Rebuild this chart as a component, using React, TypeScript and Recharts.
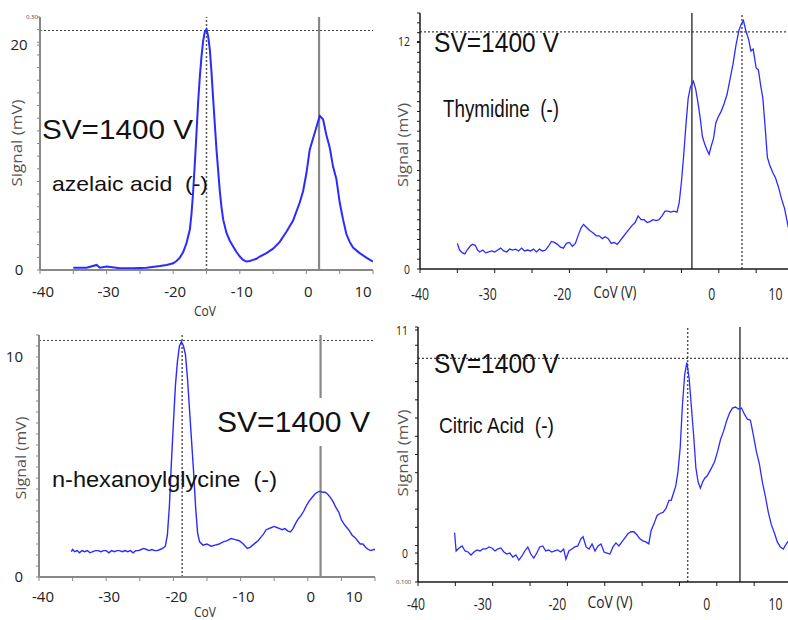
import React from 'react';
import { LineChart, Line, XAxis, YAxis, ReferenceLine } from 'recharts';

// CoV scans at SV = 1400 V
const AZELAIC_COV = [-35, -33, -31.5, -31, -30, -28, -26, -24, -22, -21, -20, -19.5, -19, -18.5, -18, -17.5, -17.25, -17, -16.75, -16.5, -16.25, -16, -15.75, -15.5, -15.25, -15, -14.75, -14.5, -14.25, -14, -13.5, -13, -12.75, -12.5, -12, -11.5, -11, -10.5, -10, -9.5, -9, -8.5, -8, -7.5, -7, -6, -5, -4, -3, -2, -1, -0.5, 0, 0.5, 1, 1.5, 2, 2.5, 3, 3.5, 4, 4.5, 5, 5.5, 6, 6.5, 7, 8, 9, 10];
const AZELAIC_SIGNAL = [0.2, 0.2, 0.45, 0.2, 0.3, 0.15, 0.15, 0.2, 0.35, 0.45, 0.6, 0.8, 1.1, 1.6, 2.4, 3.6, 5.0, 7.0, 9.5, 12.2, 15.0, 17.2, 19.0, 20.4, 21.2, 21.4, 20.8, 19.6, 17.6, 15.2, 10.7, 7.0, 5.6, 4.5, 3.3, 2.6, 2.1, 1.6, 1.2, 0.9, 0.75, 0.8, 0.9, 1.0, 1.2, 1.5, 1.9, 2.5, 3.4, 4.4, 6.0, 7.0, 8.6, 10.7, 11.7, 12.7, 13.7, 13.4, 12.0, 10.9, 9.2, 8.1, 6.0, 4.5, 3.2, 2.5, 2.0, 1.5, 1.1, 0.75];

const THYMIDINE_COV = [-35, -34.7, -34.3, -34, -33.7, -33.3, -33, -32.6, -32.3, -32, -31.6, -31.2, -30.8, -30.4, -30, -29.6, -29.2, -28.8, -28.4, -28, -27.6, -27.2, -26.8, -26.4, -26, -25.6, -25.2, -24.8, -24.4, -24, -23.6, -23.2, -22.8, -22.4, -22, -21.6, -21.2, -20.8, -20.4, -20, -19.6, -19.2, -18.8, -18.4, -18.1, -17.6, -17.2, -16.8, -16.4, -16, -15.6, -15.2, -14.8, -14.4, -14, -13.6, -13.2, -12.8, -12.4, -12, -11.6, -11.2, -10.8, -10.4, -10, -9.6, -9.2, -8.8, -8.4, -8, -7.6, -7.2, -6.8, -6.4, -6, -5.6, -5.3, -5, -4.7, -4.4, -4.1, -3.8, -3.4, -3.1, -2.8, -2.5, -2.2, -1.9, -1.6, -1.3, -1, -0.7, -0.4, -0.1, 0.3, 0.7, 1.1, 1.5, 1.9, 2.3, 2.7, 3, 3.3, 3.6, 4, 4.3, 4.6, 5, 5.3, 5.6, 5.9, 6.2, 6.5, 6.8, 7.2, 7.6, 8, 8.4, 8.8, 9.3, 9.6];
const THYMIDINE_SIGNAL = [1.35, 1.0, 0.85, 0.8, 1.0, 1.2, 1.3, 1.25, 1.0, 0.9, 1.0, 0.85, 0.9, 0.95, 0.9, 1.0, 1.1, 0.95, 0.9, 1.05, 1.0, 1.05, 0.95, 1.1, 0.95, 1.0, 0.95, 1.05, 0.9, 1.05, 0.95, 1.0, 1.2, 1.45, 1.4, 1.3, 1.15, 1.1, 1.35, 1.4, 1.2, 1.35, 1.8, 2.2, 2.35, 2.15, 2.0, 1.9, 1.75, 1.75, 1.6, 1.7, 1.6, 1.35, 1.4, 1.3, 1.5, 1.7, 1.9, 2.1, 2.3, 2.45, 2.8, 2.6, 2.6, 2.45, 2.5, 2.6, 2.55, 2.6, 2.8, 3.05, 3.05, 3.0, 3.05, 3.0, 3.5, 4.6, 6.0, 7.6, 9.0, 9.6, 9.9, 9.5, 8.8, 8.0, 7.0, 6.6, 6.3, 6.05, 6.5, 6.9, 7.7, 8.0, 8.3, 8.7, 9.2, 10.0, 10.8, 11.8, 12.6, 12.9, 13.1, 12.6, 12.1, 11.5, 11.6, 10.6, 10.5, 9.7, 9.0, 7.5, 5.9, 5.5, 5.1, 4.8, 4.3, 3.7, 3.2, 2.2, 2.0];

const HEXANOYL_COV = [-35.2, -35, -34.7, -34.3, -34, -33.6, -33.2, -32.8, -32.4, -32, -31.6, -31.2, -30.8, -30.4, -30, -29.6, -29.2, -28.8, -28.4, -28, -27.6, -27.2, -26.8, -26.4, -26, -25.6, -25.2, -24.8, -24.4, -24, -23.6, -23.2, -22.8, -22.4, -22, -21.6, -21.2, -20.9, -20.6, -20.3, -20, -19.7, -19.4, -19.1, -18.8, -18.5, -18.2, -17.9, -17.6, -17.3, -17, -16.7, -16.4, -16.1, -15.6, -15, -14.4, -13.8, -13.2, -12.6, -12, -11.4, -10.8, -10.2, -9.6, -9, -8.6, -8.2, -7.8, -7.4, -7, -6.6, -6.2, -5.8, -5.4, -5, -4.6, -4.2, -3.8, -3.4, -3, -2.6, -2.2, -1.8, -1.4, -1, -0.6, -0.2, 0.2, 0.6, 1, 1.4, 1.8, 2.2, 2.6, 3, 3.4, 3.8, 4.2, 4.6, 5, 5.4, 5.8, 6.2, 6.6, 7, 7.4, 7.8, 8.2, 8.6, 9, 9.4, 9.8, 10];
const HEXANOYL_SIGNAL = [1.15, 1.25, 1.15, 1.2, 1.1, 1.2, 1.15, 1.2, 1.1, 1.15, 1.2, 1.2, 1.15, 1.2, 1.2, 1.1, 1.2, 1.15, 1.2, 1.2, 1.15, 1.2, 1.15, 1.2, 1.1, 1.2, 1.2, 1.25, 1.3, 1.25, 1.2, 1.25, 1.2, 1.2, 1.25, 1.3, 1.4, 1.9, 3.2, 5.2, 7.0, 8.7, 9.8, 10.5, 10.7, 10.5, 10.1, 9.0, 7.6, 6.2, 4.8, 3.2, 2.0, 1.6, 1.45, 1.5, 1.4, 1.45, 1.5, 1.6, 1.65, 1.75, 1.7, 1.65, 1.5, 1.3, 1.35, 1.45, 1.55, 1.65, 1.8, 1.95, 2.15, 2.2, 2.25, 2.3, 2.25, 2.2, 2.15, 2.2, 2.1, 2.05, 2.2, 2.45, 2.65, 2.8, 3.0, 3.25, 3.45, 3.6, 3.75, 3.85, 3.9, 3.85, 3.85, 3.75, 3.6, 3.4, 3.15, 2.95, 2.6, 2.4, 2.25, 2.1, 1.9, 1.8, 1.65, 1.5, 1.5, 1.35, 1.25, 1.2, 1.25, 1.25];

const CITRIC_COV = [-35.1, -34.9, -34.5, -34.1, -33.7, -33.3, -32.9, -32.5, -32.1, -31.7, -31.3, -30.9, -30.5, -30.1, -29.7, -29.3, -28.9, -28.5, -28.1, -27.7, -27.3, -26.9, -26.5, -26.1, -25.7, -25.3, -24.9, -24.5, -24.1, -23.7, -23.3, -22.9, -22.5, -22.1, -21.7, -21.3, -20.9, -20.5, -20.2, -19.8, -19.4, -19, -18.6, -18.2, -17.9, -17.5, -17.1, -16.7, -16.3, -15.9, -15.5, -15.1, -14.7, -14.3, -13.9, -13.5, -13.1, -12.7, -12.3, -11.9, -11.5, -11.1, -10.7, -10.3, -9.9, -9.5, -9.1, -8.8, -8.4, -8, -7.6, -7.2, -6.8, -6.4, -6.1, -5.8, -5.5, -5.2, -4.9, -4.6, -4.3, -4, -3.7, -3.4, -3.1, -2.8, -2.5, -2.2, -1.9, -1.6, -1.3, -1, -0.7, -0.3, 0.1, 0.5, 0.9, 1.3, 1.7, 2.1, 2.5, 2.9, 3.3, 3.7, 4.1, 4.5, 4.9, 5.3, 5.7, 6.1, 6.5, 6.9, 7.3, 7.7, 8.1, 8.5, 8.9, 9.3, 9.6];
const CITRIC_SIGNAL = [1.0, 0.1, 0.25, 0.35, 0.1, 0.05, -0.1, 0.05, 0.15, 0.1, 0.2, 0.2, 0.3, 0.25, 0.1, 0.2, 0.25, 0.05, -0.05, 0.0, -0.2, -0.1, -0.35, -0.15, 0.1, 0.3, -0.05, -0.25, 0.0, 0.3, 0.35, 0.1, 0.15, 0.05, 0.1, 0.15, 0.05, 0.2, -0.3, 0.1, 0.2, 0.3, 0.35, 0.7, 0.8, 0.3, 0.2, 0.45, 0.1, 0.35, 0.45, 0.05, 0.0, -0.05, 0.3, 0.5, 0.35, 0.55, 0.75, 0.95, 1.05, 1.05, 0.9, 0.7, 0.6, 0.55, 0.45, 1.1, 1.45, 1.85, 1.95, 2.0, 2.2, 2.6, 2.6, 2.95, 3.3, 4.0, 5.2, 7.3, 8.8, 9.4, 8.6, 7.2, 5.8, 4.2, 3.5, 3.2, 3.5, 3.7, 3.8, 4.0, 4.2, 4.5, 5.0, 5.6, 6.0, 6.5, 6.9, 7.15, 7.2, 7.1, 7.15, 6.85, 6.6, 6.55, 5.8, 5.0, 4.4, 3.5, 2.8, 2.0, 1.4, 1.0, 0.55, 0.3, 0.2, 0.45, 0.6];

// axis labels
const X_TICKS = [-40, -35, -30, -25, -20, -15, -10, -5, 0, 5, 10];
const LEFT_X_LABELS = [-40, -30, -20, -10, 0, 10];
const RIGHT_X_LABELS = [-40, -30, -20, 0, 10];
const AZELAIC_Y_LABELS = [0, 20];
const THYMIDINE_Y_LABELS = [0, 12];
const HEXANOYL_Y_LABELS = [0, 10];
const CITRIC_Y_LABELS = [0, 11];

// dotted / solid CoV markers and the dotted apex level
const AZELAIC_MARKS = [-15, 1.9, 21.3];
const THYMIDINE_MARKS = [3.1, -3.6, 12.5];
const HEXANOYL_MARKS = [-18.7, 1.9, 10.75];
const CITRIC_MARKS = [-3.9, 3.1, 9.6];

const BLUE = '#2b2bff';
const toRows = (cov: number[], sig: number[]) => cov.map((c, i) => ({ cov: c, signal: sig[i] }));
const minorTicks = (lo: number, hi: number, n: number, labels: number[]) =>
  Array.from(new Set([...Array.from({ length: n + 1 }, (_, i) => +(lo + ((hi - lo) * i) / n).toFixed(3)), ...labels])).sort((a, b) => a - b);

const makeXTick = (labels: number[], o: any) => (p: any) => {
  const v = p.payload.value;
  if (!labels.includes(v)) return <g />;
  const shift = v === labels[0] ? o.firstDx : v === labels[labels.length - 1] ? o.lastDx : o.dx;
  return (
    <text transform={`translate(${p.x + shift},${p.y + o.dy}) scale(${o.sx},1)`} textAnchor="middle"
      fontSize={o.size} fontFamily="Open Sans" fill="#222">{v}</text>
  );
};

const makeYTick = (labels: number[], o: any) => (p: any) => {
  const v = p.payload.value;
  if (!labels.includes(v)) return <g />;
  return (
    <text transform={`translate(${o.x},${p.y + o.dy}) scale(${o.sx},1)`} textAnchor={o.anchor}
      fontSize={o.size} fontFamily="Open Sans" fill="#222">{v}</text>
  );
};

function Panel({ box, margin, yWidth, xHeight, yDomain, nMinor, yLabels, xLabels, rows, marks, right, yTick, xTick, lineWidth }: any) {
  const axisColor = right ? '#1a1a1a' : '#888';
  const axisWidth = right ? 1.5 : 2;
  const [dotX, solidX, level] = marks;
  return (
    <div style={{ position: 'absolute', left: box[0], top: box[1] }}>
      <LineChart width={box[2]} height={box[3]} data={rows} margin={margin}>
        <XAxis type="number" dataKey="cov" domain={[-40, 10]} ticks={X_TICKS} interval={0} allowDataOverflow
          height={xHeight} tickSize={4} tickMargin={0}
          axisLine={{ stroke: axisColor, strokeWidth: axisWidth }} tickLine={{ stroke: axisColor }}
          tick={makeXTick(xLabels, xTick)} />
        <YAxis type="number" domain={yDomain} ticks={minorTicks(yDomain[0], yDomain[1], nMinor, yLabels)} interval={0}
          allowDataOverflow width={yWidth} tickSize={3} tickMargin={0}
          axisLine={{ stroke: axisColor, strokeWidth: axisWidth }} tickLine={{ stroke: axisColor }}
          tick={makeYTick(yLabels, yTick)} />
        <ReferenceLine y={level} stroke="#444" strokeWidth={1.2} strokeDasharray="2 2" />
        <ReferenceLine x={dotX} stroke="#555" strokeWidth={1.5} strokeDasharray="2 2" />
        <ReferenceLine x={solidX} stroke={right ? '#222' : '#888'} strokeWidth={right ? 1.3 : 2.2} />
        <Line type="linear" dataKey="signal" stroke={BLUE} strokeWidth={lineWidth} dot={false} isAnimationActive={false} />
      </LineChart>
    </div>
  );
}

const note = { fontFamily: 'Liberation Sans, Arial, sans-serif', fill: '#111', whiteSpace: 'pre' as const };
const title = { fontFamily: 'Open Sans, sans-serif', fill: '#555', fontSize: 15 };

export default function App() {
  return (
    <div style={{ position: 'absolute', left: 0, top: 0, width: 788, height: 620, overflow: 'hidden', background: '#fff' }}>
      <Panel box={[0, 0, 394, 320]} margin={{ top: 17, right: 21, bottom: 0, left: 0 }} yWidth={40} xHeight={50}
        yDomain={[0, 22.5]} nMinor={20} yLabels={AZELAIC_Y_LABELS} xLabels={LEFT_X_LABELS}
        rows={toRows(AZELAIC_COV, AZELAIC_SIGNAL)} marks={AZELAIC_MARKS} lineWidth={2}
        yTick={{ x: 19, anchor: 'middle', dy: 5, size: 15, sx: 1 }}
        xTick={{ dy: 23, dx: 2, firstDx: 3, lastDx: -10, size: 15, sx: 1 }} />
      <Panel box={[380, 0, 420, 320]} margin={{ top: 13, right: 6.5, bottom: 0, left: 0 }} yWidth={40} xHeight={51}
        yDomain={[0, 13.5]} nMinor={26} yLabels={THYMIDINE_Y_LABELS} xLabels={RIGHT_X_LABELS}
        rows={toRows(THYMIDINE_COV, THYMIDINE_SIGNAL)} marks={THYMIDINE_MARKS} right lineWidth={1.3}
        yTick={{ x: 30, anchor: 'end', dy: 5, size: 13, sx: 0.8 }}
        xTick={{ dy: 27, dx: -7, firstDx: 0, lastDx: -18, size: 17, sx: 0.72 }} />
      <Panel box={[0, 320, 394, 300]} margin={{ top: 15, right: 19, bottom: 0, left: 0 }} yWidth={39} xHeight={43}
        yDomain={[0, 11]} nMinor={22} yLabels={HEXANOYL_Y_LABELS} xLabels={LEFT_X_LABELS}
        rows={toRows(HEXANOYL_COV, HEXANOYL_SIGNAL)} marks={HEXANOYL_MARKS} lineWidth={1.4}
        yTick={{ x: 23, anchor: 'end', dy: 5, size: 15, sx: 1 }}
        xTick={{ dy: 21, dx: 3, firstDx: 4, lastDx: -21, size: 15, sx: 1 }} />
      <Panel box={[380, 320, 420, 300]} margin={{ top: 7, right: 8.5, bottom: 0, left: 0 }} yWidth={38} xHeight={38}
        yDomain={[-1.43, 11.15]} nMinor={14} yLabels={CITRIC_Y_LABELS} xLabels={RIGHT_X_LABELS}
        rows={toRows(CITRIC_COV, CITRIC_SIGNAL)} marks={CITRIC_MARKS} right lineWidth={1.3}
        yTick={{ x: 28, anchor: 'end', dy: 5, size: 13, sx: 0.8 }}
        xTick={{ dy: 24, dx: -10, firstDx: -2, lastDx: -16, size: 17, sx: 0.72 }} />

      <svg width={788} height={620} style={{ position: 'absolute', left: 0, top: 0, pointerEvents: 'none' }}>
        <text x={42} y={139} fontSize={28} textLength={151} lengthAdjust="spacingAndGlyphs" style={note}>SV=1400 V</text>
        <text x={52} y={191} fontSize={21} textLength={156} lengthAdjust="spacingAndGlyphs" style={note}>azelaic acid  (-)</text>
        <text x={434} y={52} fontSize={28} textLength={125} lengthAdjust="spacingAndGlyphs" style={note}>SV=1400 V</text>
        <text x={443} y={117} fontSize={23} textLength={116} lengthAdjust="spacingAndGlyphs" style={note}>Thymidine  (-)</text>
        <rect x={210} y={398} width={168} height={48} fill="#fff" />
        <text x={217} y={432} fontSize={29} textLength={153} lengthAdjust="spacingAndGlyphs" style={note}>SV=1400 V</text>
        <text x={52} y={487} fontSize={22} textLength={225} lengthAdjust="spacingAndGlyphs" style={note}>n-hexanoylglycine  (-)</text>
        <text x={434} y={373} fontSize={28} textLength={125} lengthAdjust="spacingAndGlyphs" style={note}>SV=1400 V</text>
        <text x={439} y={433} fontSize={22} textLength={115} lengthAdjust="spacingAndGlyphs" style={note}>Citric Acid  (-)</text>

        <text transform="translate(22,143) rotate(-90)" textAnchor="middle" textLength={87} lengthAdjust="spacingAndGlyphs" style={title}>Signal (mV)</text>
        <text transform="translate(408,145) rotate(-90)" textAnchor="middle" textLength={84} lengthAdjust="spacingAndGlyphs" style={title}>Signal (mV)</text>
        <text transform="translate(26,458) rotate(-90)" textAnchor="middle" textLength={83} lengthAdjust="spacingAndGlyphs" style={title}>Signal (mV)</text>
        <text transform="translate(408,453) rotate(-90)" textAnchor="middle" textLength={87} lengthAdjust="spacingAndGlyphs" style={title}>Signal (mV)</text>

        <text x={205} y={316} textAnchor="middle" textLength={22} lengthAdjust="spacingAndGlyphs" style={{ ...title, fill: '#333', fontSize: 14 }}>CoV</text>
        <text x={205} y={617} textAnchor="middle" textLength={22} lengthAdjust="spacingAndGlyphs" style={{ ...title, fill: '#333', fontSize: 14 }}>CoV</text>
        <text x={615} y={298} textAnchor="middle" textLength={43} lengthAdjust="spacingAndGlyphs" style={{ ...title, fill: '#222', fontSize: 17 }}>CoV (V)</text>
        <text x={610} y={608} textAnchor="middle" textLength={45} lengthAdjust="spacingAndGlyphs" style={{ ...title, fill: '#222', fontSize: 17 }}>CoV (V)</text>

        <text x={26} y={19} fontSize={6} fill="#444" fontFamily="Open Sans">0.30</text>
        <text x={396} y={584} fontSize={6} fill="#444" fontFamily="Open Sans">0.100</text>
      </svg>
    </div>
  );
}
